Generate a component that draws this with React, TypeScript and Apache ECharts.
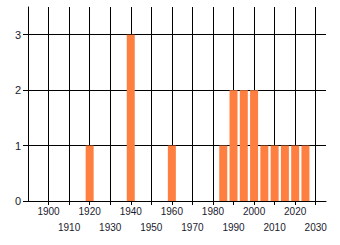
import React, { useEffect, useRef } from "react";
import * as echarts from "echarts";

const years = [1920, 1940, 1960, 1985, 1990, 1995, 2000, 2005, 2010, 2015, 2020, 2025];
const counts = [1, 3, 1, 1, 2, 2, 2, 1, 1, 1, 1, 1];

export default function App() {
  const ref = useRef<HTMLDivElement>(null);
  useEffect(() => {
    const chart = echarts.init(ref.current!, null, { renderer: "svg" });
    chart.setOption({
      animation: false,
      grid: { left: 28, right: 14, top: 7, bottom: 44, containLabel: false },
      xAxis: {
        type: "value",
        min: 1890,
        max: 2035,
        interval: 10,
        axisLine: { show: true, lineStyle: { color: "#000", width: 1 } },
        axisTick: { show: true, length: 4, lineStyle: { color: "#000" } },
        axisLabel: {
          showMinLabel: false,
          showMaxLabel: false,
          fontFamily: "Liberation Sans",
          fontSize: 10,
          color: "#1a1a2e",
          margin: 2,
          lineHeight: 16,
          formatter: (v: number) => (((v - 1900) / 10) % 2 === 0 ? String(v) : "\n" + v),
        },
        splitLine: { show: true, showMaxLine: false, lineStyle: { color: "#000", width: 1 } },
      },
      yAxis: {
        type: "value",
        min: 0,
        max: 3.5,
        interval: 1,
        axisLine: { show: true, lineStyle: { color: "#000", width: 1 } },
        axisTick: { show: true, length: 5, lineStyle: { color: "#000" } },
        axisLabel: {
          showMaxLabel: false,
          fontFamily: "Liberation Sans",
          fontSize: 11,
          color: "#1a1a2e",
          margin: 7,
        },
        splitLine: { show: true, showMaxLine: false, lineStyle: { color: "#000", width: 1 } },
      },
      series: [
        {
          type: "bar",
          data: years.map((y, i) => [y, counts[i]]),
          barWidth: 8,
          itemStyle: { color: "#FF7F40" },
        },
      ],
    });
    return () => chart.dispose();
  }, []);
  return <div ref={ref} style={{ width: 340, height: 245, position: "absolute", left: 0, top: 0, background: "#fff" }} />;
}
